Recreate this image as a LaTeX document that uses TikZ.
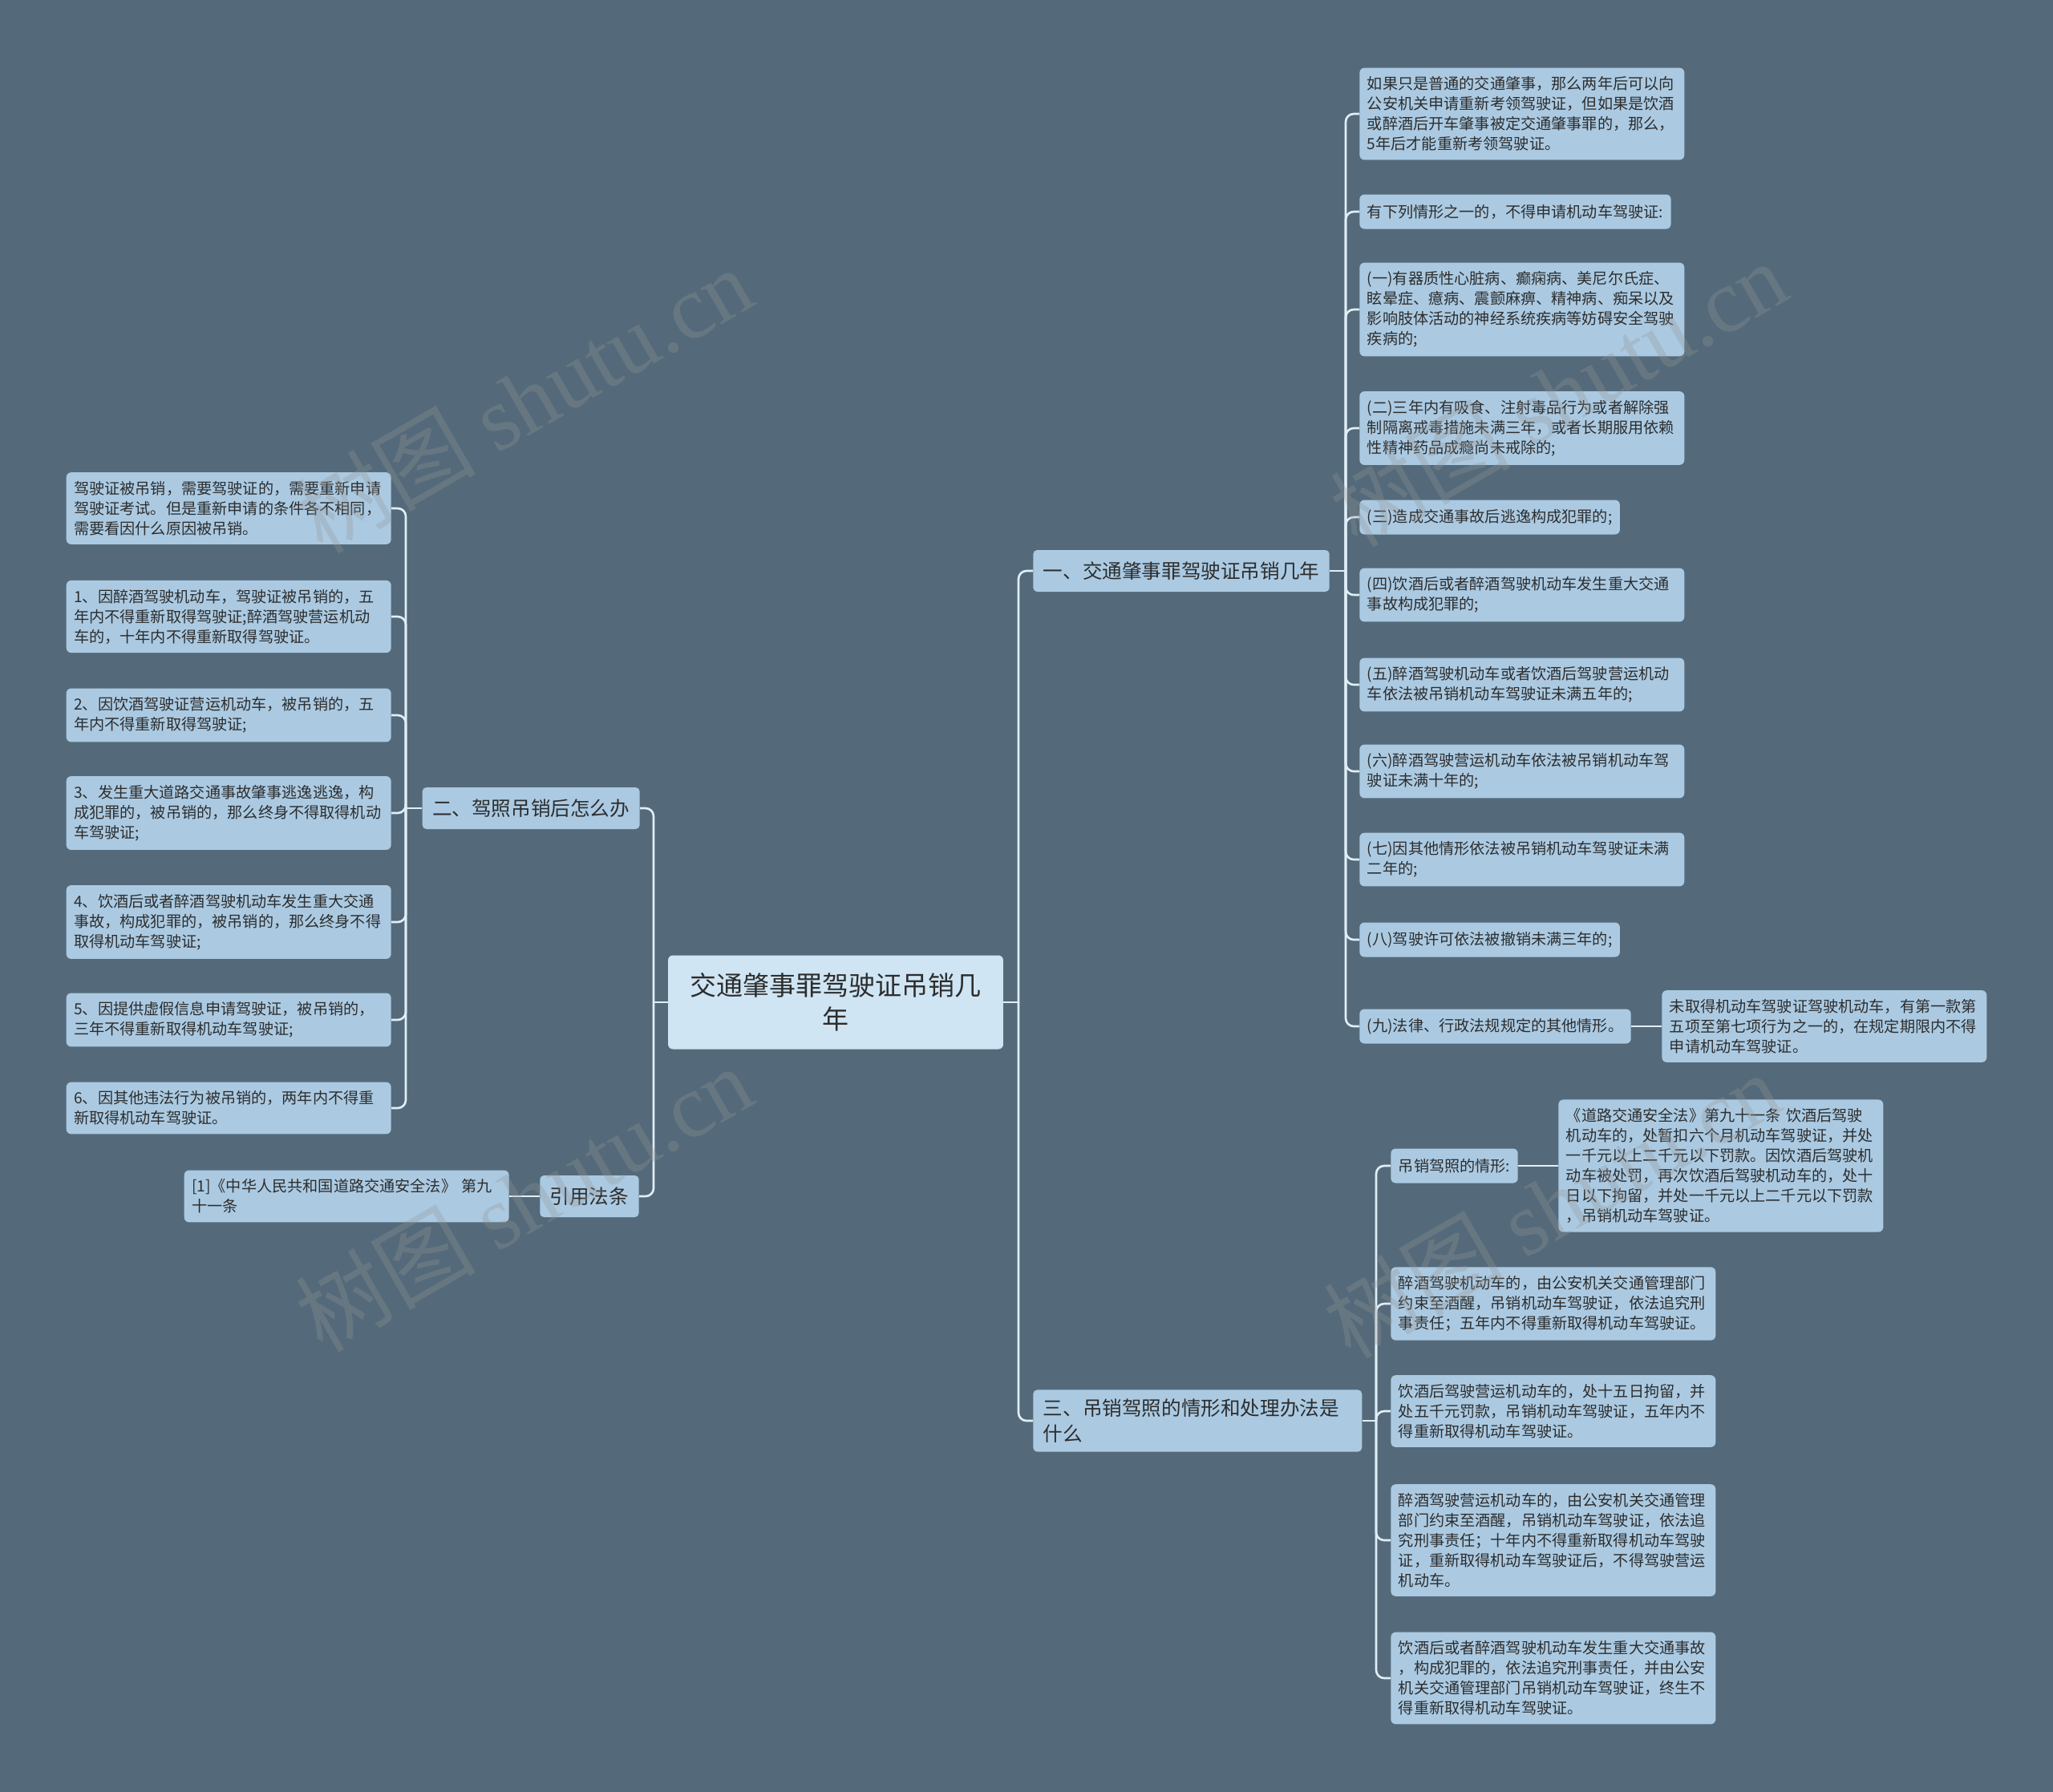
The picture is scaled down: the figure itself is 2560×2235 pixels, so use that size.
\documentclass[tikz,border=0pt]{standalone}
\usepackage{fontspec}
\setmainfont{Noto Sans CJK SC}
\newfontfamily\wmlatin{Liberation Serif}
\definecolor{mapBg}{RGB}{84,106,122}
\definecolor{mapLeaf}{RGB}{171,202,226}
\definecolor{mapRoot}{RGB}{207,229,243}
\definecolor{mapLink}{RGB}{224,238,247}
\definecolor{mapText}{RGB}{45,45,45}
\definecolor{mapMark}{RGB}{150,150,150}

\begin{document}
\begin{tikzpicture}[x=0.02cm,y=-0.02cm,
  root/.style={fill=mapRoot,rounded corners=0.12cm,minimum width=8.36cm,minimum height=2.34cm,
    inner sep=0.2cm,align=center,text=mapText,font=\fontsize{18.8}{24}\selectfont},
  branch/.style={fill=mapLeaf,rounded corners=0.1cm,inner xsep=0.25cm,inner ysep=0.22cm,
    minimum height=1.04cm,align=left,text=mapText,font=\fontsize{14}{18.5}\selectfont},
  leaf/.style={fill=mapLeaf,rounded corners=0.12cm,inner xsep=0.19cm,inner ysep=0.22cm,
    minimum height=0.86cm,align=left,text=mapText,font=\fontsize{10.9}{14.2}\selectfont},
  leafw/.style={leaf,text width=7.72cm},
  link/.style={draw=mapLink,line width=1.5pt,rounded corners=0.2cm},
  wmark/.style={rotate=30,text=mapMark,text opacity=0.3,font=\fontsize{64}{64}\selectfont}]
\fill[mapBg] (0,0) rectangle (2560,2235);
\useasboundingbox (0,0) rectangle (2560,2235);
% root and main branches
\node[root] (root) at (1042,1250) {交通肇事罪驾驶证吊销几\\年};
\node[branch,anchor=west] (b1) at (1288,712) {一、交通肇事罪驾驶证吊销几年};
\node[branch,anchor=west,text width=7.7cm] (b3) at (1288,1772) {三、吊销驾照的情形和处理办法是\\什么};
\node[branch,anchor=east] (b2) at (798,1008) {二、驾照吊销后怎么办};
\node[branch,anchor=east] (bref) at (797,1492) {引用法条};
\coordinate (sR) at (1270,1250);
\coordinate (sL) at (815,1250);
\coordinate (s1) at (1678,712);
\coordinate (s3) at (1716,1772);
\coordinate (s2) at (506,1008);
% branch one
\node[leafw,anchor=west] (r0) at (1695,142) {如果只是普通的交通肇事，那么两年后可以向\\公安机关申请重新考领驾驶证，但如果是饮酒\\或醉酒后开车肇事被定交通肇事罪的，那么，\\5年后才能重新考领驾驶证。};
\node[leaf,anchor=west] (r1) at (1695,264) {有下列情形之一的，不得申请机动车驾驶证:};
\node[leafw,anchor=west] (r2) at (1695,386) {(一)有器质性心脏病、癫痫病、美尼尔氏症、\\眩晕症、癔病、震颤麻痹、精神病、痴呆以及\\影响肢体活动的神经系统疾病等妨碍安全驾驶\\疾病的;};
\node[leafw,anchor=west] (r3) at (1695,534) {(二)三年内有吸食、注射毒品行为或者解除强\\制隔离戒毒措施未满三年，或者长期服用依赖\\性精神药品成瘾尚未戒除的;};
\node[leaf,anchor=west] (r4) at (1695,645) {(三)造成交通事故后逃逸构成犯罪的;};
\node[leafw,anchor=west] (r5) at (1695,742) {(四)饮酒后或者醉酒驾驶机动车发生重大交通\\事故构成犯罪的;};
\node[leafw,anchor=west] (r6) at (1695,854) {(五)醉酒驾驶机动车或者饮酒后驾驶营运机动\\车依法被吊销机动车驾驶证未满五年的;};
\node[leafw,anchor=west] (r7) at (1695,962) {(六)醉酒驾驶营运机动车依法被吊销机动车驾\\驶证未满十年的;};
\node[leafw,anchor=west] (r8) at (1695,1072) {(七)因其他情形依法被吊销机动车驾驶证未满\\二年的;};
\node[leaf,anchor=west] (r9) at (1695,1172) {(八)驾驶许可依法被撤销未满三年的;};
\node[leaf,anchor=west] (r10) at (1695,1280) {(九)法律、行政法规规定的其他情形。};
\node[leafw,anchor=west] (r10a) at (2072,1280) {未取得机动车驾驶证驾驶机动车，有第一款第\\五项至第七项行为之一的，在规定期限内不得\\申请机动车驾驶证。};
% branch three
\node[leaf,anchor=west] (t0) at (1734,1454) {吊销驾照的情形:};
\node[leafw,anchor=west] (t0a) at (1943,1454) {《道路交通安全法》第九十一条 饮酒后驾驶\\机动车的，处暂扣六个月机动车驾驶证，并处\\一千元以上二千元以下罚款。因饮酒后驾驶机\\动车被处罚，再次饮酒后驾驶机动车的，处十\\日以下拘留，并处一千元以上二千元以下罚款\\，吊销机动车驾驶证。};
\node[leafw,anchor=west] (t1) at (1734,1626) {醉酒驾驶机动车的，由公安机关交通管理部门\\约束至酒醒，吊销机动车驾驶证，依法追究刑\\事责任；五年内不得重新取得机动车驾驶证。};
\node[leafw,anchor=west] (t2) at (1734,1760) {饮酒后驾驶营运机动车的，处十五日拘留，并\\处五千元罚款，吊销机动车驾驶证，五年内不\\得重新取得机动车驾驶证。};
\node[leafw,anchor=west] (t3) at (1734,1921) {醉酒驾驶营运机动车的，由公安机关交通管理\\部门约束至酒醒，吊销机动车驾驶证，依法追\\究刑事责任；十年内不得重新取得机动车驾驶\\证，重新取得机动车驾驶证后，不得驾驶营运\\机动车。};
\node[leafw,anchor=west] (t4) at (1734,2093) {饮酒后或者醉酒驾驶机动车发生重大交通事故\\，构成犯罪的，依法追究刑事责任，并由公安\\机关交通管理部门吊销机动车驾驶证，终生不\\得重新取得机动车驾驶证。};
% branch two
\node[leafw,anchor=east] (l0) at (488,634) {驾驶证被吊销，需要驾驶证的，需要重新申请\\驾驶证考试。但是重新申请的条件各不相同，\\需要看因什么原因被吊销。};
\node[leafw,anchor=east] (l1) at (488,769) {1、因醉酒驾驶机动车，驾驶证被吊销的，五\\年内不得重新取得驾驶证;醉酒驾驶营运机动\\车的，十年内不得重新取得驾驶证。};
\node[leafw,anchor=east] (l2) at (488,892) {2、因饮酒驾驶证营运机动车，被吊销的，五\\年内不得重新取得驾驶证;};
\node[leafw,anchor=east] (l3) at (488,1014) {3、发生重大道路交通事故肇事逃逸逃逸，构\\成犯罪的，被吊销的，那么终身不得取得机动\\车驾驶证;};
\node[leafw,anchor=east] (l4) at (488,1150) {4、饮酒后或者醉酒驾驶机动车发生重大交通\\事故，构成犯罪的，被吊销的，那么终身不得\\取得机动车驾驶证;};
\node[leafw,anchor=east] (l5) at (488,1272) {5、因提供虚假信息申请驾驶证，被吊销的，\\三年不得重新取得机动车驾驶证;};
\node[leafw,anchor=east] (l6) at (488,1382) {6、因其他违法行为被吊销的，两年内不得重\\新取得机动车驾驶证。};
\node[leafw,anchor=east] (lref) at (635,1492) {[1]《中华人民共和国道路交通安全法》 第九\\十一条};
% connectors
\draw[link] (root.east) -- (sR);
\draw[link] (sR) |- (b1.west);
\draw[link] (sR) |- (b3.west);
\draw[link] (root.west) -- (sL);
\draw[link] (sL) |- (b2.east);
\draw[link] (sL) |- (bref.east);
\draw[link] (b1.east) -- (s1);
\draw[link] (s1) |- (r0.west);
\draw[link] (s1) |- (r1.west);
\draw[link] (s1) |- (r2.west);
\draw[link] (s1) |- (r3.west);
\draw[link] (s1) |- (r4.west);
\draw[link] (s1) |- (r5.west);
\draw[link] (s1) |- (r6.west);
\draw[link] (s1) |- (r7.west);
\draw[link] (s1) |- (r8.west);
\draw[link] (s1) |- (r9.west);
\draw[link] (s1) |- (r10.west);
\draw[link] (r10.east) -- (r10a.west);
\draw[link] (b3.east) -- (s3);
\draw[link] (s3) |- (t0.west);
\draw[link] (s3) |- (t1.west);
\draw[link] (s3) |- (t2.west);
\draw[link] (s3) |- (t3.west);
\draw[link] (s3) |- (t4.west);
\draw[link] (t0.east) -- (t0a.west);
\draw[link] (b2.west) -- (s2);
\draw[link] (s2) |- (l0.east);
\draw[link] (s2) |- (l1.east);
\draw[link] (s2) |- (l2.east);
\draw[link] (s2) |- (l3.east);
\draw[link] (s2) |- (l4.east);
\draw[link] (s2) |- (l5.east);
\draw[link] (s2) |- (l6.east);
\draw[link] (bref.west) -- (lref.east);
% watermarks
\node[wmark] (w1) at (653,498) {树图 {\wmlatin shutu.cn}};
\node[wmark] (w2) at (653,1494) {树图 {\wmlatin shutu.cn}};
\node[wmark] (w3) at (1943,490) {树图 {\wmlatin shutu.cn}};
\node[wmark] (w4) at (1935,1502) {树图 {\wmlatin shutu.cn}};
\end{tikzpicture}
\end{document}
